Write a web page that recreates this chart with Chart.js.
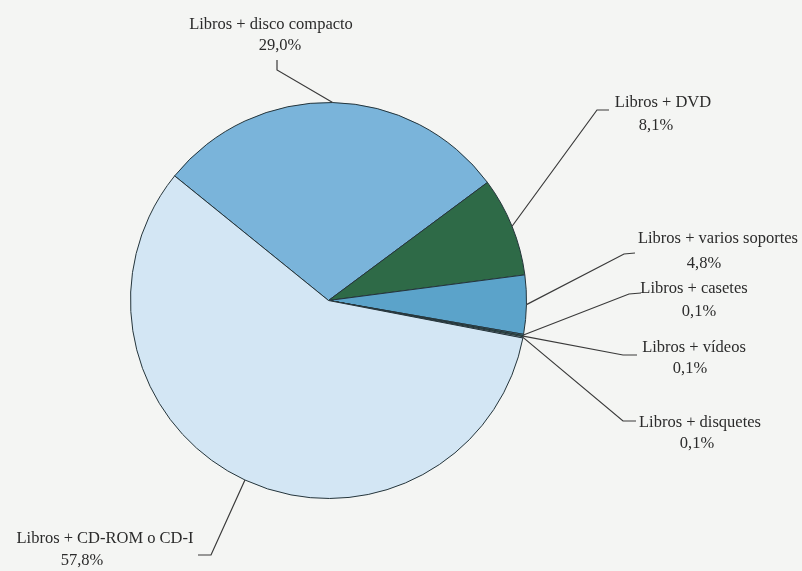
<!DOCTYPE html>
<html>
<head>
<meta charset="utf-8">
<script src="https://cdn.jsdelivr.net/npm/chart.js@4"></script>
<style>
  html, body { margin: 0; padding: 0; background: #f4f5f3; }
  #wrap { width: 802px; height: 571px; position: relative; }
</style>
</head>
<body>
<div id="wrap"><canvas id="c" width="802" height="571"></canvas></div>
<script>
// ---- data ----
const categories = [
  "Libros + disco compacto",
  "Libros + DVD",
  "Libros + varios soportes",
  "Libros + casetes",
  "Libros + vídeos",
  "Libros + disquetes",
  "Libros + CD-ROM o CD-I"
];
const shares = [29.0, 8.1, 4.8, 0.1, 0.1, 0.1, 57.8];
const shareLabels = ["29,0%", "8,1%", "4,8%", "0,1%", "0,1%", "0,1%", "57,8%"];

// ---- styling ----
const sliceColors = ["#7ab4da", "#2e6a47", "#5ba3ca", "#5ba3ca", "#3f7f4c", "#cfe3f2", "#d3e6f4"];

// label layout: elbow / end of leader, text anchor points
const labelLayout = [
  { elbow: [277, 70],  end: [277, 60],  l1: [271, 29],  l2: [280, 50] },
  { elbow: [597, 110], end: [609, 110], l1: [663, 107], l2: [656, 130] },
  { elbow: [624, 254], end: [635, 253], l1: [718, 243], l2: [704, 268] },
  { elbow: [629, 294], end: [641, 293], l1: [694, 293], l2: [699, 316] },
  { elbow: [623, 355], end: [637, 355], l1: [694, 352], l2: [690, 373] },
  { elbow: [623, 421], end: [636, 421], l1: [700, 427], l2: [697, 448] },
  { elbow: [211, 555], end: [198, 555], l1: [105, 543], l2: [82, 565] }
];

const leaderPlugin = {
  id: 'leaders',
  afterDatasetsDraw(chart) {
    const ctx = chart.ctx;
    const meta = chart.getDatasetMeta(0);
    ctx.save();
    ctx.strokeStyle = '#3a3a3a';
    ctx.lineWidth = 1.2;
    ctx.fillStyle = '#2b2b2b';
    ctx.font = '16.5px "Liberation Serif", "DejaVu Serif", serif';
    ctx.textAlign = 'center';
    ctx.textBaseline = 'alphabetic';
    meta.data.forEach((arc, i) => {
      const lay = labelLayout[i];
      const mid = (arc.startAngle + arc.endAngle) / 2;
      const ax = arc.x + Math.cos(mid) * arc.outerRadius;
      const ay = arc.y + Math.sin(mid) * arc.outerRadius;
      ctx.beginPath();
      ctx.moveTo(ax, ay);
      ctx.lineTo(lay.elbow[0], lay.elbow[1]);
      ctx.lineTo(lay.end[0], lay.end[1]);
      ctx.stroke();
      ctx.fillText(categories[i], lay.l1[0], lay.l1[1]);
      ctx.fillText(shareLabels[i], lay.l2[0], lay.l2[1]);
    });
    ctx.restore();
  }
};

new Chart(document.getElementById('c'), {
  type: 'pie',
  data: {
    labels: categories,
    datasets: [{
      data: shares,
      backgroundColor: sliceColors,
      borderColor: '#24343a',
      borderWidth: 1
    }]
  },
  options: {
    responsive: false,
    animation: false,
    rotation: -51,
    layout: { padding: { left: 130, top: 102, right: 275, bottom: 72 } },
    plugins: { legend: { display: false }, tooltip: { enabled: false } }
  },
  plugins: [leaderPlugin]
});
</script>
</body>
</html>
